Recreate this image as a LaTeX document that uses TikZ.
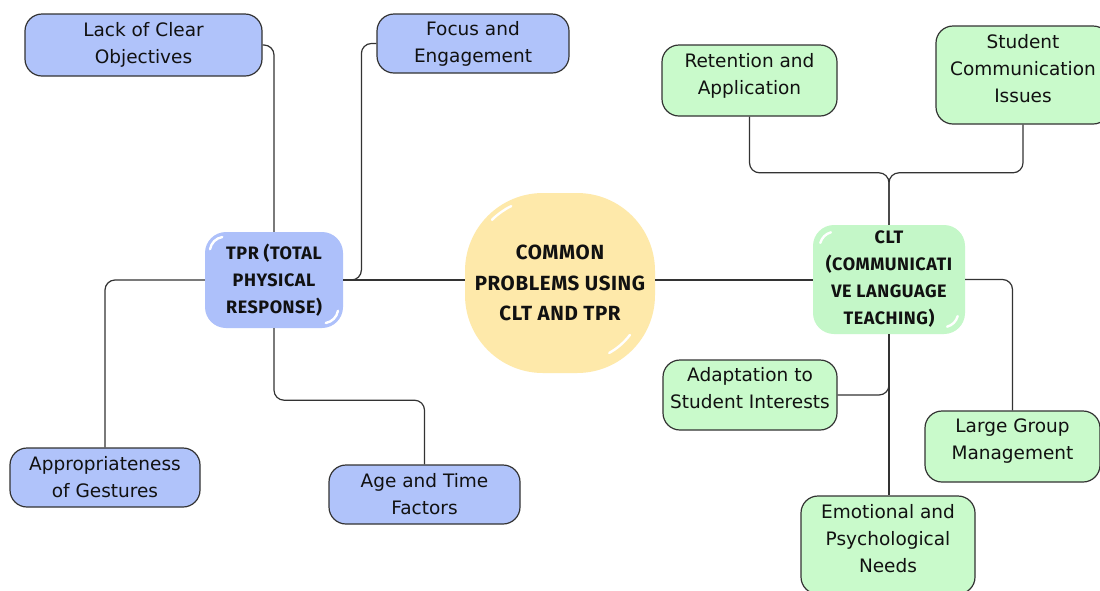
\documentclass[tikz,border=0pt]{standalone}
\usepackage{fontspec}
\setmainfont{DejaVu Sans}
\newfontfamily\headfont{Fira Sans}[LetterSpace=3]
\usetikzlibrary{calc}

\definecolor{tprblue}{HTML}{ADC0FA}
\definecolor{leafblue}{HTML}{B0C3FA}
\definecolor{cltgreen}{HTML}{C4F7C8}
\definecolor{leafgreen}{HTML}{C9FACB}
\definecolor{coreyellow}{HTML}{FEE9AA}
\definecolor{edge}{HTML}{333333}
\definecolor{ink}{HTML}{111111}

\tikzset{
  leaf/.style={draw=edge, line width=1.2pt, rounded corners=17pt, align=center,
    text=ink, inner sep=0pt, font=\fontsize{18.5}{27}\selectfont},
  blueleaf/.style={leaf, fill=leafblue},
  greenleaf/.style={leaf, fill=leafgreen, text depth=14pt},
  hub/.style={rounded corners=21pt, align=center, text=ink, inner sep=0pt,
    font=\headfont\bfseries\fontsize{18}{27}\selectfont},
  link/.style={draw=edge, line width=1.2pt, rounded corners=10pt},
  gloss/.style={draw=white, line width=2.4pt, line cap=round},
}

\begin{document}
\begin{tikzpicture}[x=1pt, y=1pt]
\useasboundingbox (0,0) rectangle (1100,-590);
\clip (0,0) rectangle (1100,-590);
\fill[white] (0,0) rectangle (1100,-590);

% central topic
\node[fill=coreyellow, rounded corners=78pt, minimum width=190pt, minimum height=180pt,
      align=center, text=ink, inner sep=0pt,
      font=\headfont\bfseries\fontsize{20.5}{30.5}\selectfont]
  (core) at (560,-283) {COMMON\\PROBLEMS USING\\CLT AND TPR};

% main branches
\node[hub, fill=tprblue, minimum width=138pt, minimum height=96pt]
  (tpr) at (274,-280) {TPR (TOTAL\\PHYSICAL\\RESPONSE)};
\node[hub, fill=cltgreen, minimum width=152pt, minimum height=109pt]
  (clt) at (889,-279.5) {CLT\\(COMMUNICATI\\VE LANGUAGE\\TEACHING)};

% TPR sub-topics
\node[blueleaf, minimum width=237pt, minimum height=62pt]
  (lack) at (143.5,-45) {Lack of Clear\\Objectives};
\node[blueleaf, minimum width=192pt, minimum height=59pt]
  (focus) at (473,-43.5) {Focus and\\Engagement};
\node[blueleaf, minimum width=190pt, minimum height=59pt]
  (appr) at (105,-477.5) {Appropriateness\\of Gestures};
\node[blueleaf, minimum width=191pt, minimum height=59pt]
  (age) at (424.5,-494.5) {Age and Time\\Factors};

% CLT sub-topics
\node[greenleaf, minimum width=175pt, minimum height=71pt]
  (retention) at (749.5,-80.5) {Retention and\\Application};
\node[greenleaf, minimum width=174pt, minimum height=98pt]
  (student) at (1023,-75) {Student\\Communication\\Issues};
\node[greenleaf, minimum width=174pt, minimum height=70pt]
  (adapt) at (750,-395) {Adaptation to\\Student Interests};
\node[greenleaf, minimum width=175pt, minimum height=71pt]
  (large) at (1012.5,-446.5) {Large Group\\Management};
\node[greenleaf, minimum width=174pt, minimum height=98pt]
  (emotion) at (888,-545) {Emotional and\\Psychological\\Needs};

% connectors
\draw[link] (tpr.east) -- (tpr.east -| core.west);
\draw[link] (core.east |- tpr.east) -- (clt.west |- tpr.east);
\draw[link] (lack.east) -| (tpr.north);
\draw[link] (focus.west) -- ++(-15,0) |- (tpr.east);
\draw[link] (tpr.west) -| (appr.north);
\draw[link] (tpr.south) -- ++(0,-72) -| (age.north);
\draw[link] (clt.north) -- ++(0,52) -| (retention.south);
\draw[link] (clt.north) -- ++(0,52) -| (student.south);
\draw[link] (clt.south) -- (clt.south |- emotion.north);
\draw[link] (clt.south) |- (adapt.east);
\draw[link] (clt.east) -| (large.north);

% glossy highlights on the hubs
\draw[gloss] ($(core.north west)+(78,-78)$) ++(135:72) arc (135:116:72);
\draw[gloss] ($(core.south east)+(-78,78)$) ++(-61:66) arc (-61:-37:66);
\draw[gloss] ($(tpr.north west)+(20,-20)$) ++(170:15) arc (170:100:15);
\draw[gloss] ($(tpr.south east)+(-20,20)$) ++(-80:15) arc (-80:-10:15);
\draw[gloss] ($(clt.north west)+(22,-22)$) ++(165:15) arc (165:105:15);
\draw[gloss] ($(clt.south east)+(-22,22)$) ++(-75:15) arc (-75:-15:15);
\end{tikzpicture}
\end{document}
